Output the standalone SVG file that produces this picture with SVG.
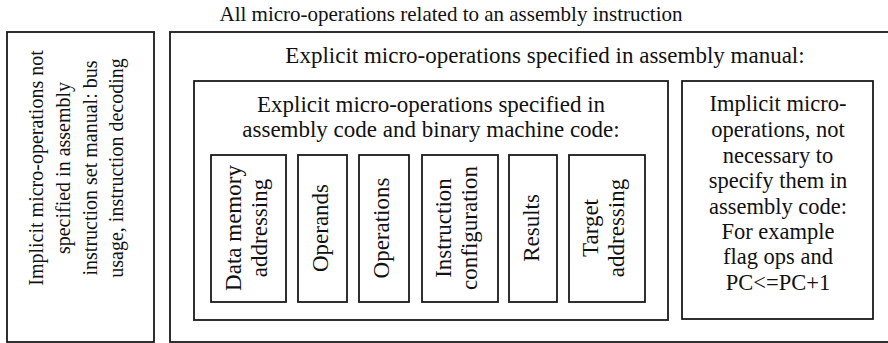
<svg xmlns="http://www.w3.org/2000/svg" width="888" height="343" viewBox="0 0 888 343" font-family="Liberation Serif, DejaVu Serif, serif">
  <style>
    .box { fill: #fff; stroke: #1a1a1a; stroke-width: 1.8; }
    text { fill: #111; text-anchor: middle; }
    .title { font-size: 21px; }
    .big { font-size: 23px; }
    .side { font-size: 20px; }
    .right { font-size: 22.5px; }
    .cell { font-size: 23px; }
  </style>
  <rect width="888" height="343" fill="#fff"/>

  <text id="caption" class="title" x="451" y="21">All micro-operations related to an assembly instruction</text>

  <!-- implicit, not in manual -->
  <g id="implicit-hidden">
    <rect class="box" x="7" y="32" width="147" height="310"/>
    <text class="side" transform="translate(43,168) rotate(-90)">Implicit micro-operations not</text>
    <text class="side" transform="translate(70,168) rotate(-90)">specified in assembly</text>
    <text class="side" transform="translate(97,168) rotate(-90)">instruction set manual: bus</text>
    <text class="side" transform="translate(123,168) rotate(-90)">usage, instruction decoding</text>
  </g>

  <!-- everything documented in the manual -->
  <g id="manual">
    <rect class="box" x="170" y="32" width="730" height="310"/>
    <text class="big" x="545" y="63">Explicit micro-operations specified in assembly manual:</text>
  </g>

  <g id="explicit-code">
    <rect class="box" x="194" y="81" width="474" height="239"/>
    <text class="big" x="431" y="112">Explicit micro-operations specified in</text>
    <text class="big" x="431" y="137">assembly code and binary machine code:</text>
  </g>

  <g id="data-memory-addressing">
    <rect class="box" x="211" y="155" width="75" height="147"/>
    <text class="cell" transform="translate(241,228) rotate(-90)">Data memory</text>
    <text class="cell" transform="translate(267,228) rotate(-90)">addressing</text>
  </g>
  <g id="operands">
    <rect class="box" x="298" y="155" width="49" height="147"/>
    <text class="cell" transform="translate(328,228) rotate(-90)">Operands</text>
  </g>
  <g id="operations">
    <rect class="box" x="359" y="155" width="50" height="147"/>
    <text class="cell" transform="translate(389,228) rotate(-90)">Operations</text>
  </g>
  <g id="instruction-configuration">
    <rect class="box" x="422" y="155" width="76" height="147"/>
    <text class="cell" transform="translate(451,228) rotate(-90)">Instruction</text>
    <text class="cell" transform="translate(477,228) rotate(-90)">configuration</text>
  </g>
  <g id="results">
    <rect class="box" x="509" y="155" width="48" height="147"/>
    <text class="cell" transform="translate(539,228) rotate(-90)">Results</text>
  </g>
  <g id="target-addressing">
    <rect class="box" x="569" y="155" width="76" height="147"/>
    <text class="cell" transform="translate(598,228) rotate(-90)">Target</text>
    <text class="cell" transform="translate(624,228) rotate(-90)">addressing</text>
  </g>

  <g id="implicit-code">
    <rect class="box" x="682" y="81" width="191" height="238"/>
    <text class="right" x="778" y="111">Implicit micro-</text>
    <text class="right" x="778" y="137">operations, not</text>
    <text class="right" x="778" y="163">necessary to</text>
    <text class="right" x="778" y="188">specify them in</text>
    <text class="right" x="778" y="214">assembly code:</text>
    <text class="right" x="778" y="239">For example</text>
    <text class="right" x="778" y="264">flag ops and</text>
    <text class="right" x="778" y="290">PC&lt;=PC+1</text>
  </g>

  <g id="connectors"/>
</svg>
